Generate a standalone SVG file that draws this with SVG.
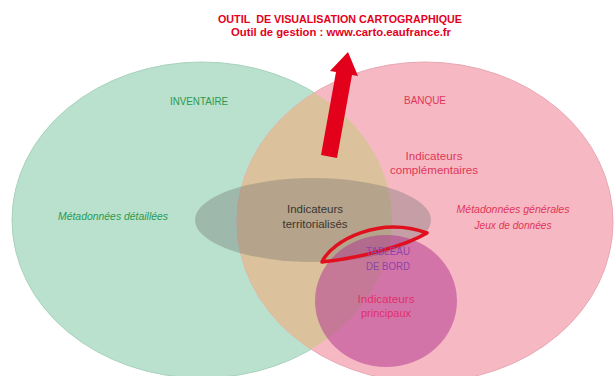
<svg xmlns="http://www.w3.org/2000/svg" width="615" height="376" viewBox="0 0 615 376">
<style>
text{font-family:"Liberation Sans",Arial,sans-serif;text-anchor:middle;font-size:10.5px}
.title{font-weight:bold;fill:#e3001b}
.green{fill:#2a9a50}
.pink{fill:#e03658}
.dark{fill:#3a3530}
.purple{fill:#8b45a5}
.mag{fill:#e0306a}
.it{font-style:italic}
</style>
<defs>
<clipPath id="clipGreen"><ellipse cx="202" cy="220" rx="190" ry="158"/></clipPath>
</defs>
<rect width="615" height="376" fill="#ffffff"/>
<g id="inventaire">
<ellipse cx="202" cy="220" rx="190" ry="158" fill="#b9e1cd" stroke="#a9d2bd" stroke-width="1"/>
</g>
<g id="banque">
<ellipse cx="425" cy="222" rx="188" ry="160" fill="#f6b9c3" stroke="#e8a8b3" stroke-width="1"/>
<ellipse cx="425" cy="222" rx="188" ry="160" fill="#dcc29c" clip-path="url(#clipGreen)"/>
</g>
<g id="territorialises">
<ellipse cx="313" cy="220" rx="118" ry="42" fill="#6e6e6e" fill-opacity="0.35"/>
</g>
<g id="principaux">
<ellipse cx="386" cy="301" rx="71" ry="66" fill="#b0308f" fill-opacity="0.5"/>
</g>
<g id="tableau">
<path d="M322,262 C332,240 380,216 427,233 C405,246 360,258 322,262 Z" fill="none" stroke="#e0101e" stroke-width="3.5" stroke-linejoin="round"/>
</g>
<g id="connectors">
<polygon points="348,52 358,76 352,75 337,158 321,155 336,72 330,71" fill="#e3001b"/>
</g>
<g id="labels">
<text class="title" x="340" y="23" textLength="244" lengthAdjust="spacingAndGlyphs">OUTIL&#160; DE VISUALISATION CARTOGRAPHIQUE</text>
<text class="title" x="341" y="36" textLength="220" lengthAdjust="spacingAndGlyphs">Outil de gestion : www.carto.eaufrance.fr</text>
<text class="green" x="199" y="105" textLength="58" lengthAdjust="spacingAndGlyphs">INVENTAIRE</text>
<text class="pink" x="425" y="104" textLength="42" lengthAdjust="spacingAndGlyphs">BANQUE</text>
<text class="pink" x="434" y="160" textLength="57" lengthAdjust="spacingAndGlyphs">Indicateurs</text>
<text class="pink" x="434" y="174" textLength="88" lengthAdjust="spacingAndGlyphs">complémentaires</text>
<text class="green it" x="113" y="220" textLength="110" lengthAdjust="spacingAndGlyphs">Métadonnées détaillées</text>
<text class="pink it" x="513" y="213" textLength="113" lengthAdjust="spacingAndGlyphs">Métadonnées générales</text>
<text class="pink it" x="513" y="229" textLength="77" lengthAdjust="spacingAndGlyphs">Jeux de données</text>
<text class="dark" x="315" y="213" textLength="56" lengthAdjust="spacingAndGlyphs">Indicateurs</text>
<text class="dark" x="315" y="228" textLength="65" lengthAdjust="spacingAndGlyphs">territorialisés</text>
<text class="purple" x="388" y="255" textLength="44" lengthAdjust="spacingAndGlyphs">TABLEAU</text>
<text class="purple" x="388" y="270" textLength="44" lengthAdjust="spacingAndGlyphs">DE BORD</text>
<text class="mag" x="386" y="303" textLength="57" lengthAdjust="spacingAndGlyphs">Indicateurs</text>
<text class="mag" x="386" y="317" textLength="50" lengthAdjust="spacingAndGlyphs">principaux</text>
</g>
</svg>
